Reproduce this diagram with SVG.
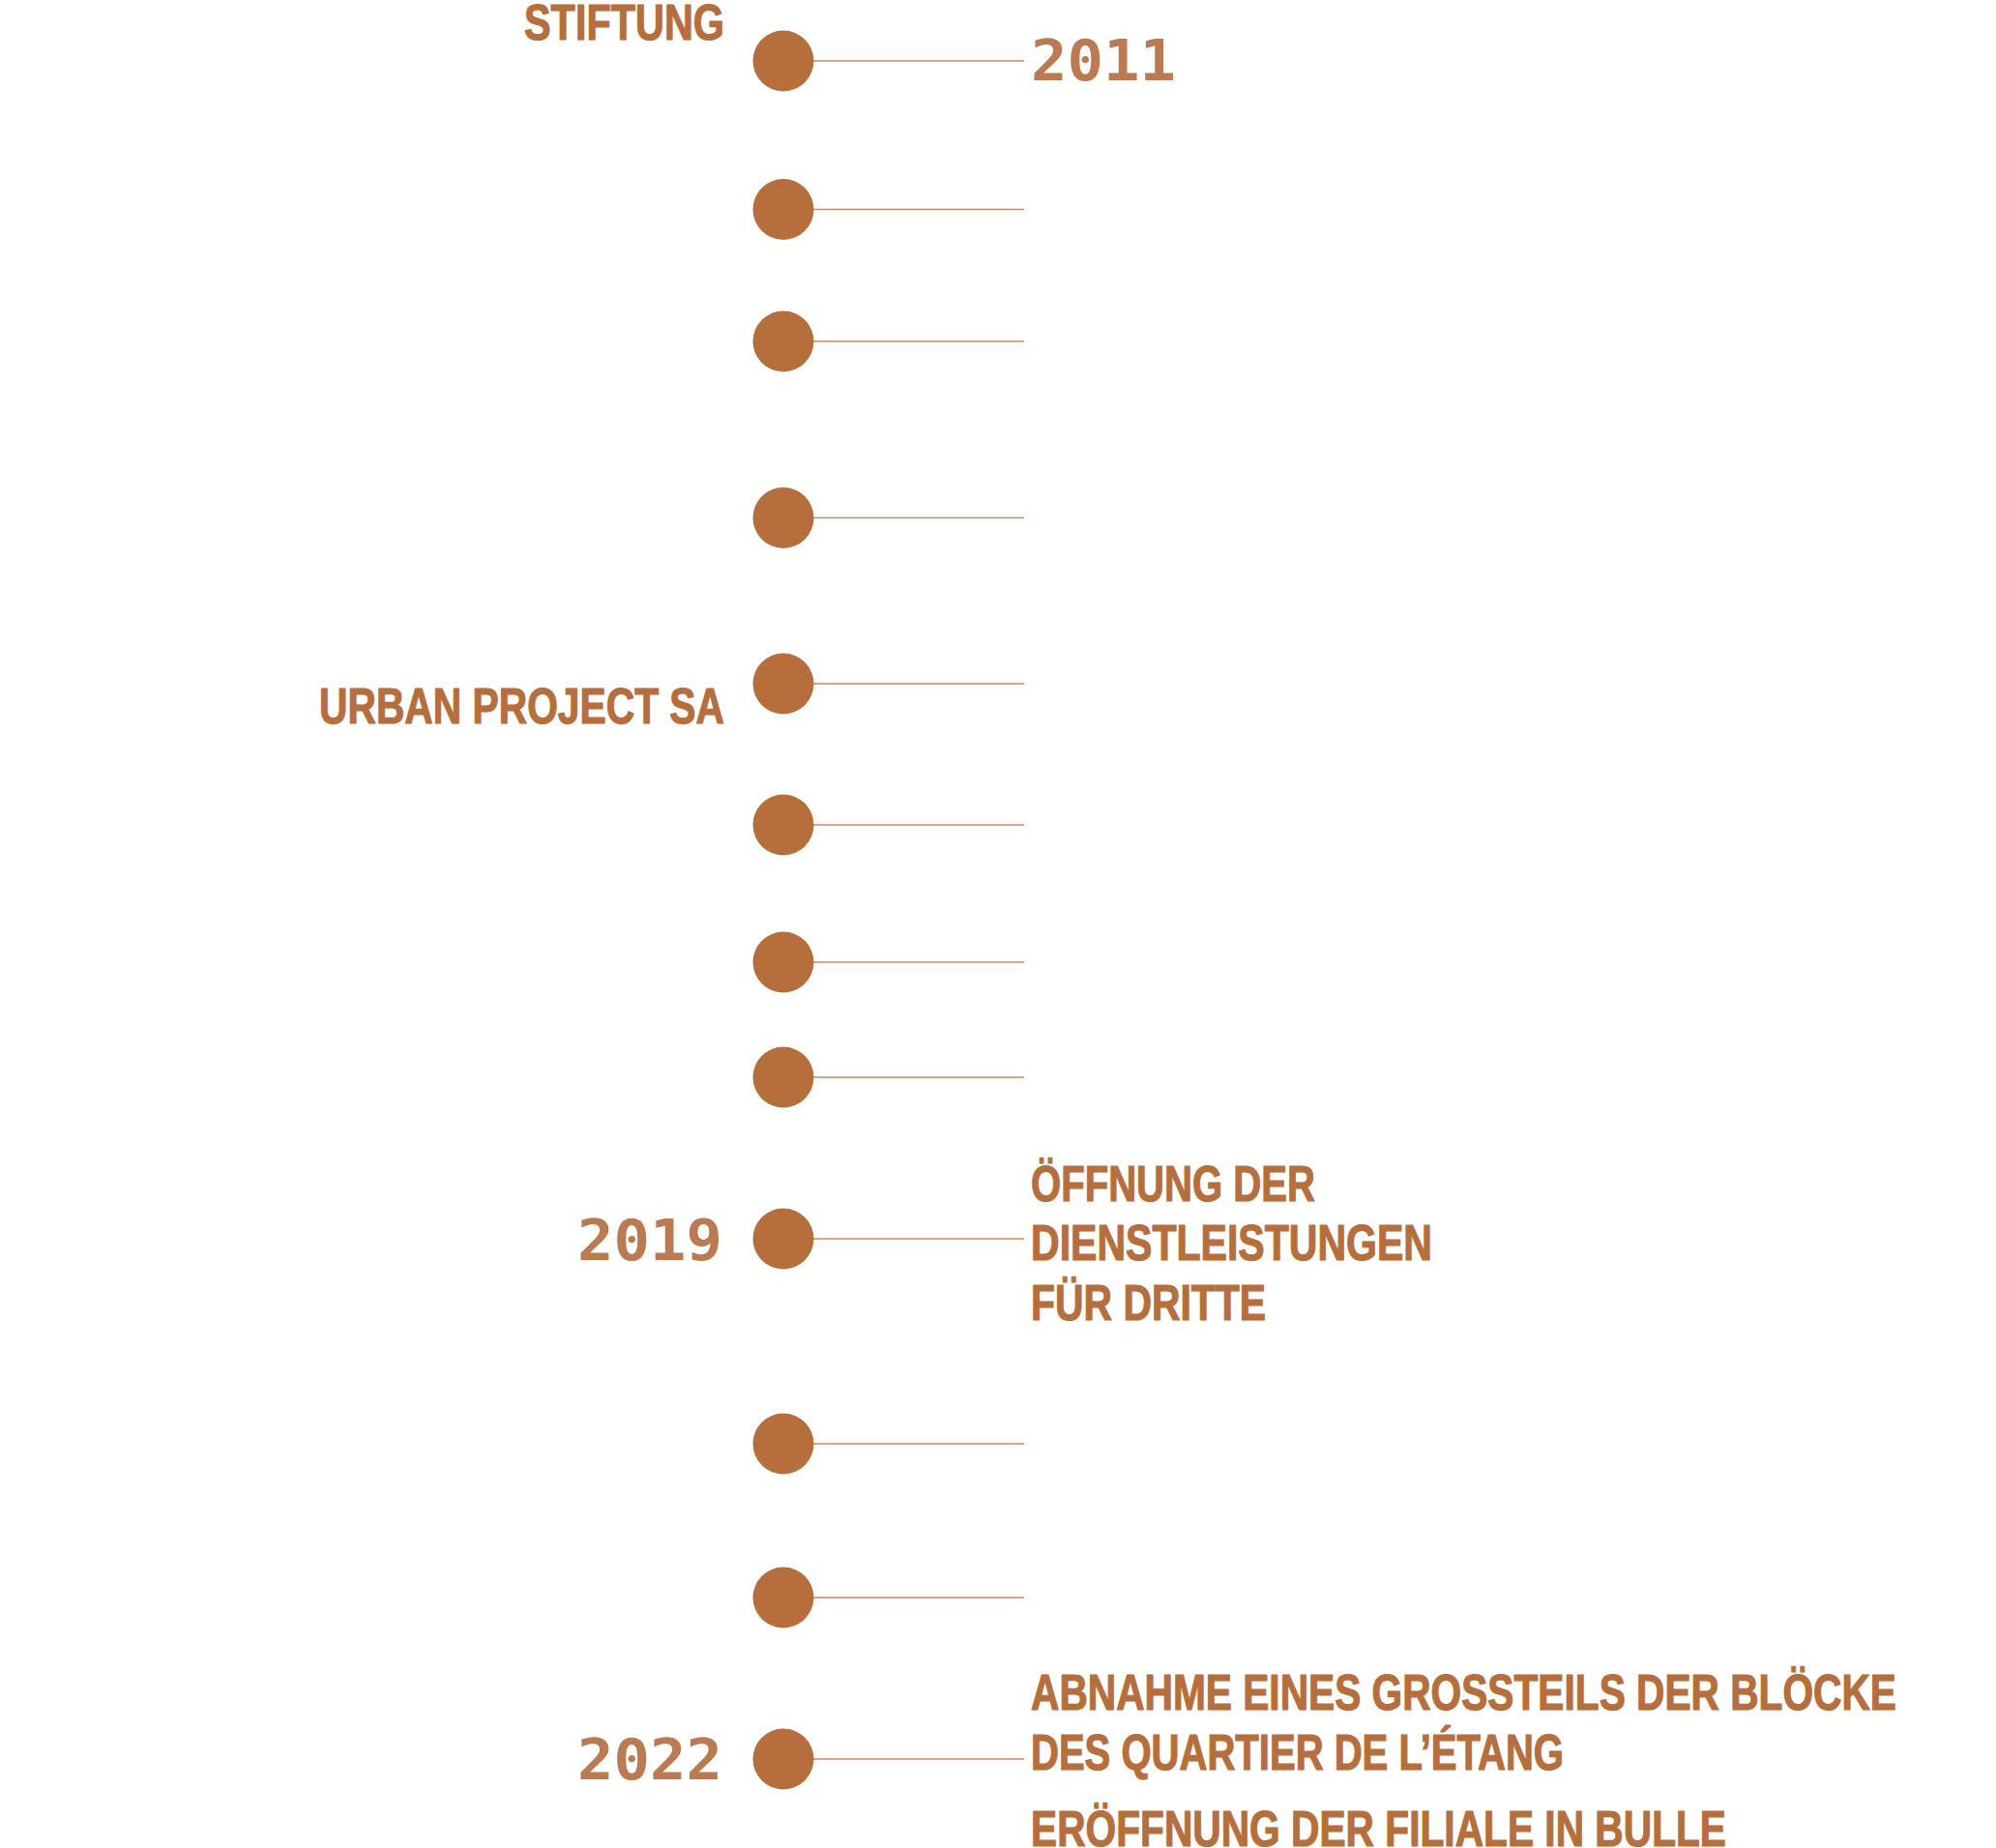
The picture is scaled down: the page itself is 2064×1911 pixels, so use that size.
<svg xmlns="http://www.w3.org/2000/svg" width="2064" height="1911" viewBox="0 0 2064 1911">
<style>
.dot{fill:#b56e3c}
.ln{stroke:#c98a62;stroke-width:1.6;fill:none}
.lbl{font-family:"Liberation Sans",Arial,sans-serif;font-weight:700;font-size:52px;fill:#b56e3c;stroke:#b56e3c;stroke-width:1.2}
.yr{font-family:"DejaVu Sans Mono","Liberation Mono",monospace;font-weight:700;font-size:58px;fill:#bb7b52}
</style>
<rect width="2064" height="1911" fill="#ffffff"/>
<g id="connectors">
<line class="ln" x1="841" y1="63" x2="1059" y2="63"/>
<line class="ln" x1="841" y1="216.5" x2="1059" y2="216.5"/>
<line class="ln" x1="841" y1="353" x2="1059" y2="353"/>
<line class="ln" x1="841" y1="535.5" x2="1059" y2="535.5"/>
<line class="ln" x1="841" y1="707" x2="1059" y2="707"/>
<line class="ln" x1="841" y1="853" x2="1059" y2="853"/>
<line class="ln" x1="841" y1="995" x2="1059" y2="995"/>
<line class="ln" x1="841" y1="1114" x2="1059" y2="1114"/>
<line class="ln" x1="841" y1="1281" x2="1059" y2="1281"/>
<line class="ln" x1="841" y1="1493" x2="1059" y2="1493"/>
<line class="ln" x1="841" y1="1652" x2="1059" y2="1652"/>
<line class="ln" x1="841" y1="1819" x2="1059" y2="1819"/>
</g>
<g id="node-2011">
<circle class="dot" cx="810" cy="63" r="31.5"/>
<text class="lbl" x="542" y="41" textLength="207" lengthAdjust="spacingAndGlyphs">STIFTUNG</text>
<text class="yr" x="1066" y="83" textLength="150" lengthAdjust="spacingAndGlyphs">2011</text>
</g>
<g id="node-2"><circle class="dot" cx="810" cy="216.5" r="31.5"/></g>
<g id="node-3"><circle class="dot" cx="810" cy="353" r="31.5"/></g>
<g id="node-4"><circle class="dot" cx="810" cy="535.5" r="31.5"/></g>
<g id="node-5">
<circle class="dot" cx="810" cy="707" r="31.5"/>
<text class="lbl" x="330" y="748" textLength="419" lengthAdjust="spacingAndGlyphs">URBAN PROJECT SA</text>
</g>
<g id="node-6"><circle class="dot" cx="810" cy="853" r="31.5"/></g>
<g id="node-7"><circle class="dot" cx="810" cy="995" r="31.5"/></g>
<g id="node-8"><circle class="dot" cx="810" cy="1114" r="31.5"/></g>
<g id="node-2019">
<circle class="dot" cx="810" cy="1281" r="31.5"/>
<text class="yr" x="597" y="1303" textLength="150" lengthAdjust="spacingAndGlyphs">2019</text>
<text class="lbl" x="1066" y="1242" textLength="294" lengthAdjust="spacingAndGlyphs">ÖFFNUNG DER</text>
<text class="lbl" x="1066" y="1303" textLength="415" lengthAdjust="spacingAndGlyphs">DIENSTLEISTUNGEN</text>
<text class="lbl" x="1066" y="1365" textLength="243" lengthAdjust="spacingAndGlyphs">FÜR DRITTE</text>
</g>
<g id="node-10"><circle class="dot" cx="810" cy="1493" r="31.5"/></g>
<g id="node-11"><circle class="dot" cx="810" cy="1652" r="31.5"/></g>
<g id="node-2022">
<circle class="dot" cx="810" cy="1819" r="31.5"/>
<text class="yr" x="597" y="1840" textLength="150" lengthAdjust="spacingAndGlyphs">2022</text>
<text class="lbl" x="1066" y="1768" textLength="895" lengthAdjust="spacingAndGlyphs">ABNAHME EINES GROSSTEILS DER BLÖCKE</text>
<text class="lbl" x="1066" y="1830" textLength="551" lengthAdjust="spacingAndGlyphs">DES QUARTIER DE L’ÉTANG</text>
<text class="lbl" x="1066" y="1909" textLength="719" lengthAdjust="spacingAndGlyphs">ERÖFFNUNG DER FILIALE IN BULLE</text>
</g>
</svg>
